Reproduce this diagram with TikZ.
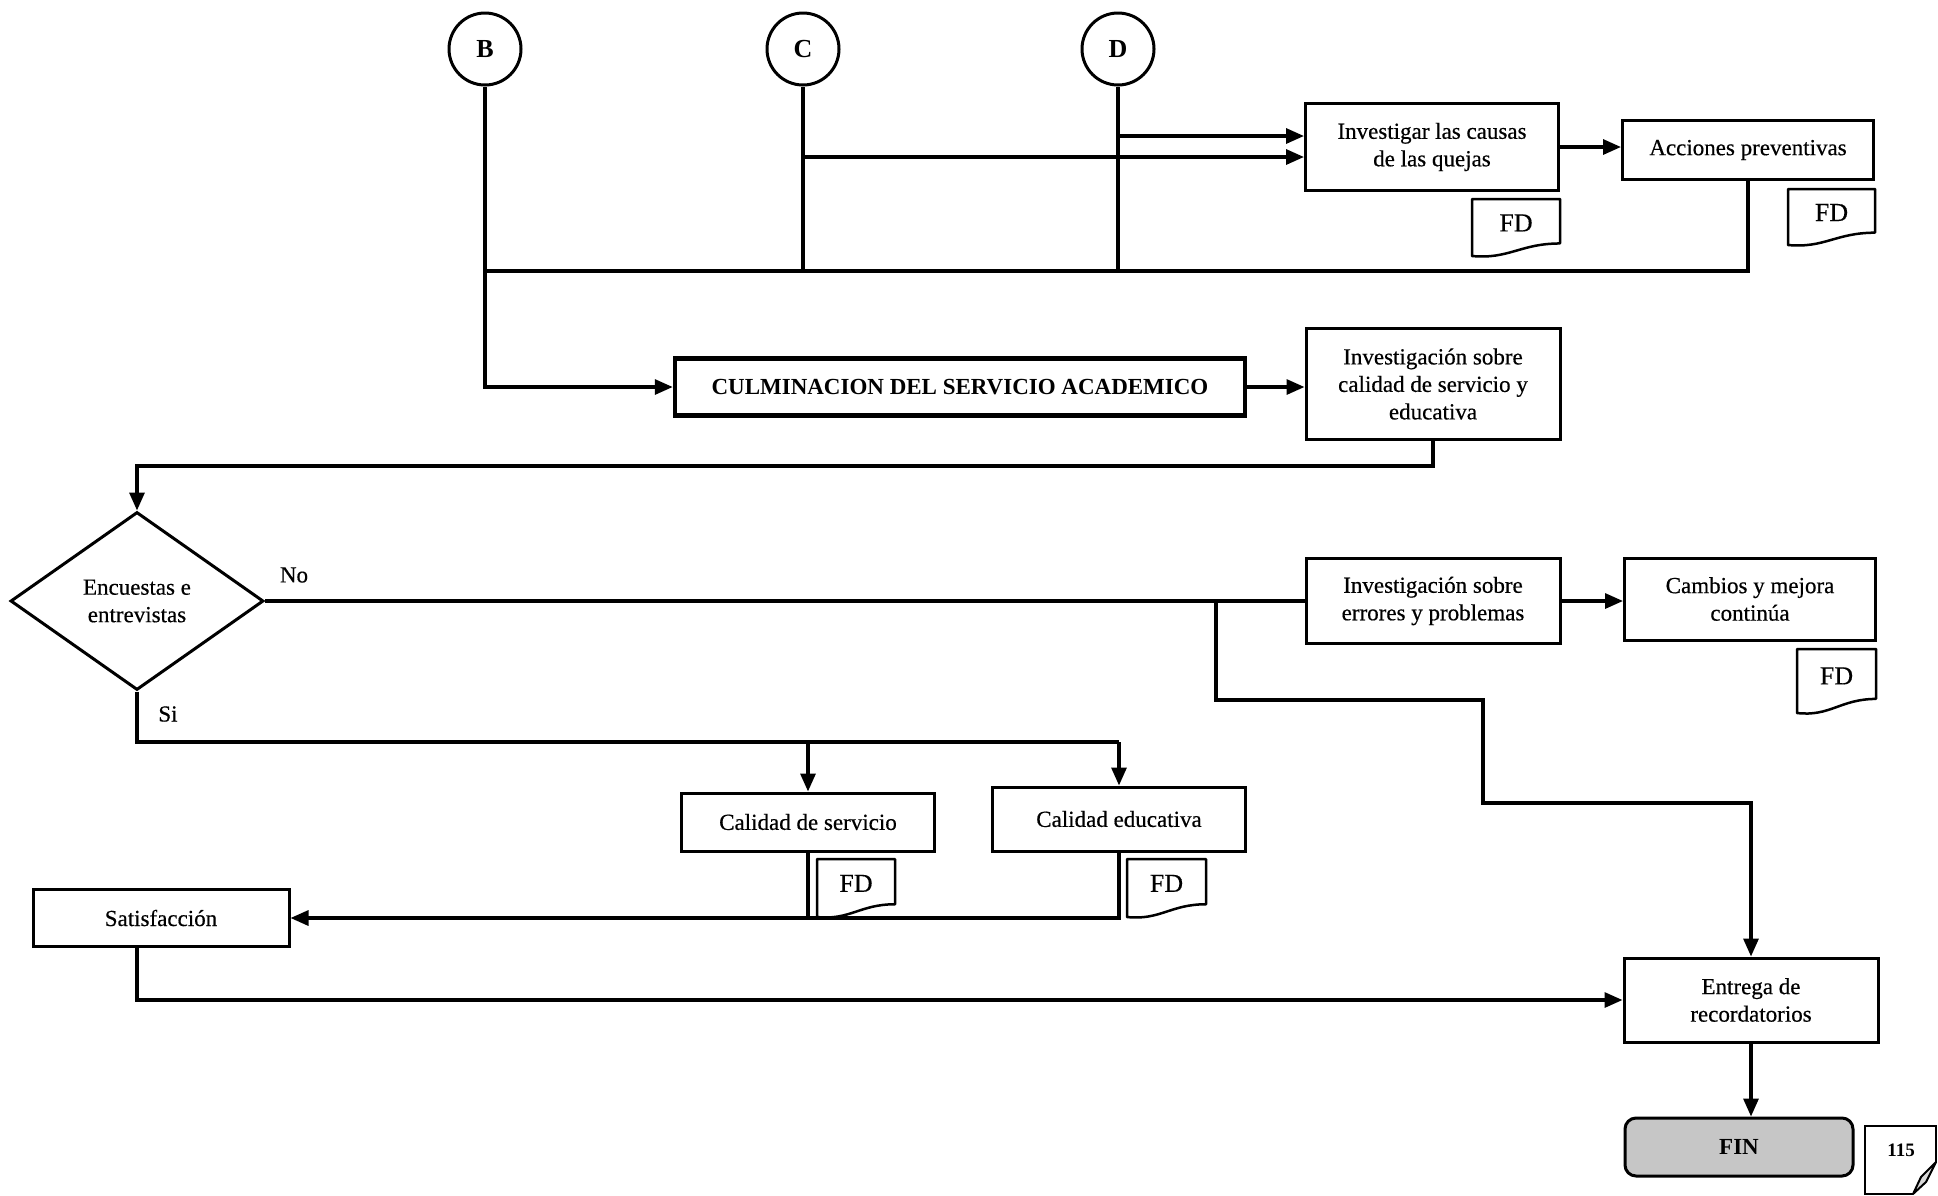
\documentclass[tikz,border=0pt]{standalone}
\usepackage{fontspec}
\setmainfont{Liberation Serif}[UprightFeatures={FakeBold=0.5}]
\usetikzlibrary{arrows.meta,shapes.geometric,calc}

% document symbol with a wavy bottom edge, labelled FD
\newcommand\fdoc[5]{%
  \draw[line width=2.5pt,line join=round]
    (#2,#3) -- (#4,#3) -- (#4,{#5-0.22*(#5-#3)})
    .. controls ({#2+0.55*(#4-#2)},{#5-0.22*(#5-#3)}) and ({#2+0.42*(#4-#2)},{#5+0.06*(#5-#3)}) .. (#2,#5) -- cycle;
  \node[font=\fontsize{26}{30}\selectfont] (#1) at ({(#2+#4)/2},{#3+0.42*(#5-#3)}) {FD};}

\begin{document}
\begin{tikzpicture}[x=1pt,y=-1pt,
  every node/.style={font=\fontsize{23}{27.5}\selectfont},
  proc/.style={draw,line width=3pt,align=center,inner sep=2pt},
  conn/.style={line width=3.2pt},
  arr/.style={conn,-{Triangle[length=18pt,width=15pt]}},
  linkcirc/.style={circle,draw,line width=3pt,minimum size=72pt,inner sep=0pt,
    font=\fontsize{26}{30}\selectfont\bfseries},
  lbl/.style={font=\fontsize{23}{27}\selectfont}]

\useasboundingbox (0,0) rectangle (1938,1195);

% off-page connectors
\node[linkcirc] (B) at (485,49) {B};
\node[linkcirc] (C) at (803,49) {C};
\node[linkcirc] (D) at (1118,49) {D};

% process boxes
\node[proc,minimum width=253pt,minimum height=87pt] (inv) at (1432,147) {Investigar las causas\\de las quejas};
\node[proc,minimum width=251pt,minimum height=59pt] (acc) at (1748,150) {Acciones preventivas};
\node[proc,line width=4.5pt,minimum width=570pt,minimum height=57pt,
  font=\fontsize{23}{27}\selectfont\bfseries] (culm) at (960,387) {CULMINACION DEL SERVICIO ACADEMICO};
\node[proc,minimum width=254pt,minimum height=111pt] (invcal) at (1433,384) {Investigación sobre\\calidad de servicio y\\educativa};
\node[draw,diamond,line width=3pt,minimum width=253pt,minimum height=178pt,inner sep=0pt,
  aspect=1.42,align=center] (dia) at (137,601) {Encuestas e\\entrevistas};
\node[proc,minimum width=254pt,minimum height=85pt] (err) at (1433,601) {Investigación sobre\\errores y problemas};
\node[proc,minimum width=251pt,minimum height=82pt] (cam) at (1750,599) {Cambios y mejora\\continúa};
\node[proc,minimum width=253pt,minimum height=58pt] (cs) at (808,822) {Calidad de servicio};
\node[proc,minimum width=253pt,minimum height=64pt] (ce) at (1119,819) {Calidad educativa};
\node[proc,minimum width=256pt,minimum height=57pt] (sat) at (161,918) {Satisfacción};
\node[proc,minimum width=254pt,minimum height=84pt] (ent) at (1751,1000) {Entrega de\\recordatorios};
\node[draw,line width=3pt,rounded corners=11pt,fill=gray!45,minimum width=228pt,minimum height=58pt,
  font=\fontsize{23}{27}\selectfont\bfseries] (fin) at (1739,1147) {FIN};

% document symbols
\fdoc{fd1}{1472}{199}{1560}{256}
\fdoc{fd2}{1788}{189}{1875}{245}
\fdoc{fd3}{1797}{649}{1876}{713}
\fdoc{fd4}{817}{859}{895}{917}
\fdoc{fd5}{1127}{859}{1206}{917}

% branch labels
\node[lbl] (lno) at (294,575) {No};
\node[lbl] (lsi) at (168,714) {Si};

% page number note with folded corner
\node[font=\fontsize{19}{23}\selectfont\bfseries] (pg) at (1901,1150) {115};
\draw[line width=2pt] (1936,1162) -- (1936,1126) -- (1865,1126) -- (1865,1194) -- (1913,1194);
\draw[line width=2pt,fill=gray!30,line join=round] (1913,1194) -- (1921,1177) -- (1936,1162) -- (1926,1182) -- cycle;

% helper rows
\coordinate (bus) at (0,271);
\coordinate (cy) at (0,157);
\coordinate (dy) at (0,136);
\coordinate (ty) at (0,466);
\coordinate (siy) at (0,742);
\coordinate (br) at (1216,601);
\coordinate (k1) at (1216,700);
\coordinate (k2) at (1483,700);
\coordinate (k3) at (1483,803);

% upper connectors
\draw[arr] (B.south) |- (culm.west);
\draw[conn] (acc.south) |- (B.south |- bus);
\draw[conn] (C.south) -- (C.south |- bus);
\draw[conn] (D.south) -- (D.south |- bus);
\draw[arr] (C.south |- cy) -- (inv.west |- cy);
\draw[arr] (D.south |- dy) -- (inv.west |- dy);
\draw[arr] (inv.east) -- (inv.east -| acc.west);
\draw[arr] (culm.east) -- (culm.east -| invcal.west);
\draw[arr] (invcal.south) -- (invcal.south |- ty) -| (dia.north);

% decision branches
\draw[conn] (dia.east) -- (err.west);
\draw[arr] (err.east) -- (err.east -| cam.west);
\draw[arr] (br) -- (k1) -- (k2) -- (k3) -| (ent.north);
\draw[conn] (dia.south) |- (ce.north |- siy);
\draw[arr] (cs.north |- siy) -- (cs.north);
\draw[arr] (ce.north |- siy) -- (ce.north);

% lower connectors
\draw[conn] (cs.south) -- (cs.south |- sat.east);
\draw[arr] (ce.south) |- (sat.east);
\draw[arr] (sat.south -| dia.south) |- (ent.west);
\draw[arr] (ent.south) -- (ent.south |- fin.north);

\end{tikzpicture}
\end{document}
